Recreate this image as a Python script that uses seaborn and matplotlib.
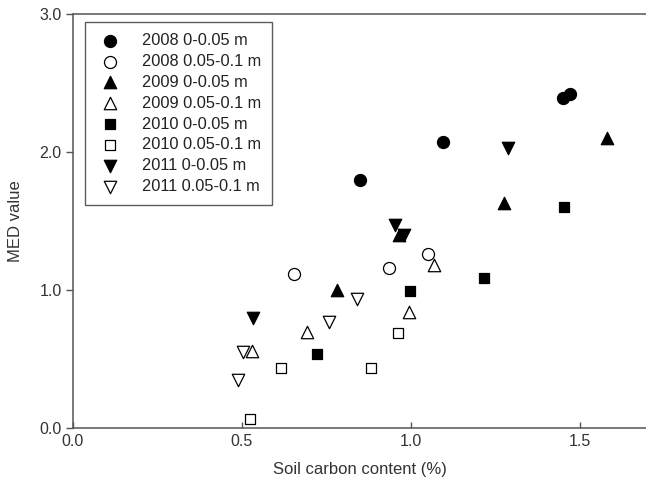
import pandas as pd
import matplotlib
matplotlib.use('Agg')
import matplotlib.pyplot as plt
import seaborn as sns

labels = ['2008 0-0.05 m', '2008 0.05-0.1 m', '2009 0-0.05 m', '2009 0.05-0.1 m',
          '2010 0-0.05 m', '2010 0.05-0.1 m', '2011 0-0.05 m', '2011 0.05-0.1 m']

carbon_2008_top = [0.850, 1.097, 1.451, 1.472]
med_2008_top = [1.80, 2.07, 2.395, 2.42]
carbon_2008_sub = [0.655, 0.937, 1.052]
med_2008_sub = [1.113, 1.162, 1.26]
carbon_2009_top = [0.783, 0.965, 1.277, 1.582]
med_2009_top = [1.00, 1.40, 1.628, 2.10]
carbon_2009_sub = [0.531, 0.692, 0.994, 1.070]
med_2009_sub = [0.56, 0.693, 0.843, 1.18]
carbon_2010_top = [0.722, 0.998, 1.218, 1.453]
med_2010_top = [0.536, 0.995, 1.085, 1.60]
carbon_2010_sub = [0.525, 0.615, 0.882, 0.962]
med_2010_sub = [0.063, 0.433, 0.433, 0.686]
carbon_2011_top = [0.534, 0.954, 0.980, 1.289]
med_2011_top = [0.795, 1.47, 1.40, 2.027]
carbon_2011_sub = [0.488, 0.503, 0.758, 0.842]
med_2011_sub = [0.348, 0.553, 0.766, 0.935]

xs = [carbon_2008_top, carbon_2008_sub, carbon_2009_top, carbon_2009_sub,
      carbon_2010_top, carbon_2010_sub, carbon_2011_top, carbon_2011_sub]
ys = [med_2008_top, med_2008_sub, med_2009_top, med_2009_sub,
      med_2010_top, med_2010_sub, med_2011_top, med_2011_sub]

markers = ['o', 'o', '^', '^', 's', 's', 'v', 'v']
faces = ['black', 'white'] * 4
sizes = [75, 75, 80, 80, 60, 60, 80, 80]

sns.set_style('ticks')
plt.rcParams['font.family'] = ['Liberation Sans', 'DejaVu Sans']

fig = plt.figure(figsize=(6.46, 4.94), dpi=100)
ax = fig.add_axes([0.1125, 0.1336, 0.8895, 0.838])

for x, y, lab, m, fc, s in zip(xs, ys, labels, markers, faces, sizes):
    df = pd.DataFrame({'carbon': x, 'med': y})
    sns.scatterplot(data=df, x='carbon', y='med', marker=m, color=fc,
                    edgecolor='black', linewidth=0.9, s=s, label=lab, ax=ax, zorder=3)

ax.set_xlim(0, 1.7)
ax.set_ylim(0, 3.0)
ax.set_xticks([0.0, 0.5, 1.0, 1.5])
ax.set_yticks([0.0, 1.0, 2.0, 3.0])
ax.set_xticklabels(['0.0', '0.5', '1.0', '1.5'])
ax.set_yticklabels(['0.0', '1.0', '2.0', '3.0'])
ax.tick_params(axis='x', direction='in', length=4, width=1, colors='#555555',
               labelcolor='#333333', labelsize=11.5, pad=4)
ax.tick_params(axis='y', direction='out', length=5, width=1, colors='#555555',
               labelcolor='#333333', labelsize=11.5, pad=3)
for side in ['left', 'bottom', 'top']:
    ax.spines[side].set_color('#555555')
    ax.spines[side].set_linewidth(1.1)
ax.spines['right'].set_visible(False)

ax.set_xlabel('Soil carbon content (%)', fontsize=12, color='#333333', labelpad=10)
ax.set_ylabel('MED value', fontsize=12, color='#333333', labelpad=12)

leg = ax.legend(loc='upper left', bbox_to_anchor=(0.022, 0.98), frameon=True,
                fancybox=False, edgecolor='#333333', fontsize=11.8,
                handletextpad=1.1, labelspacing=0.36, borderpad=0.65,
                handlelength=1.7, borderaxespad=0)
leg.get_frame().set_linewidth(1.0)
for t in leg.get_texts():
    t.set_color('#222222')

fig.savefig('out.png', dpi=100)
